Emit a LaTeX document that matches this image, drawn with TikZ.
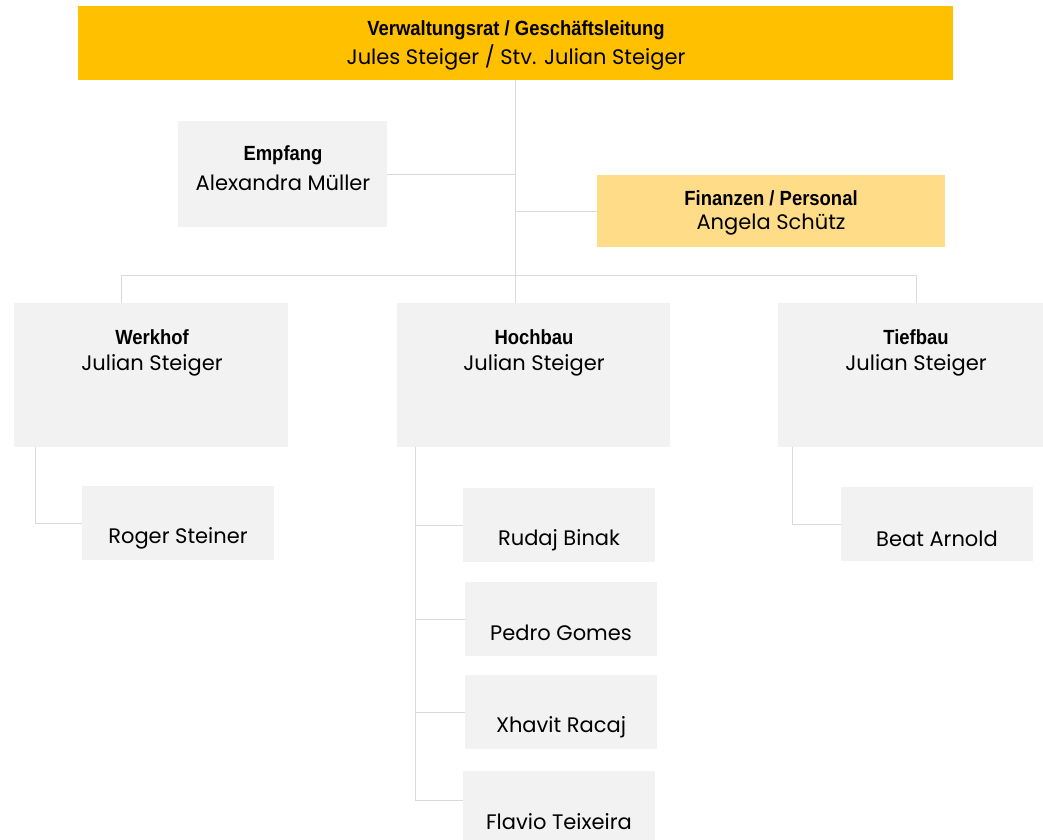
\documentclass[tikz,border=0pt]{standalone}
\usepackage{fontspec}
\setmainfont{Poppins}
\newfontfamily\headfont{Liberation Sans}[FakeStretch=0.9]
\definecolor{gold}{HTML}{FFC000}
\definecolor{lightgold}{HTML}{FFDC87}
\definecolor{boxgray}{HTML}{F2F2F2}
\definecolor{linegray}{HTML}{D9D9D9}

\begin{document}
\begin{tikzpicture}[
    x=1pt, y=-1pt,
    % Define styles
    unit/.style={
        rectangle,
        fill=boxgray,
        inner sep=0pt
    },
    unittitle/.style={
        font=\headfont\bfseries\fontsize{20.5}{22}\selectfont
    },
    person/.style={
        font=\fontsize{21}{23}\selectfont
    },
    link/.style={
        draw=linegray,
        line width=1pt
    }
]

% Page frame
\useasboundingbox (0,0) rectangle (1043,839);

% Board
\node[unit, fill=gold, minimum width=875pt, minimum height=74pt] (board) at (515.5,43) {};
\node[unittitle] (board-title) at (516,30) {Verwaltungsrat / Geschäftsleitung};
\node[person] (board-name) at (516,57) {Jules Steiger / Stv. Julian Steiger};

% Staff units
\node[unit, minimum width=209pt, minimum height=106pt] (empfang) at (282.5,174) {};
\node[unittitle] (empfang-title) at (283,155) {Empfang};
\node[person] (empfang-name) at (283,183) {Alexandra Müller};

\node[unit, fill=lightgold, minimum width=348pt, minimum height=72pt] (finanzen) at (771,211) {};
\node[unittitle] (finanzen-title) at (771,198) {Finanzen / Personal};
\node[person] (finanzen-name) at (771,225) {Angela Schütz};

% Departments
\node[unit, minimum width=274pt, minimum height=144pt] (werkhof) at (151,375) {};
\node[unittitle] (werkhof-title) at (152,337) {Werkhof};
\node[person] (werkhof-name) at (152,365) {Julian Steiger};

\node[unit, minimum width=273pt, minimum height=144pt] (hochbau) at (533.5,375) {};
\node[unittitle] (hochbau-title) at (534,337) {Hochbau};
\node[person] (hochbau-name) at (534,365) {Julian Steiger};

\node[unit, minimum width=265pt, minimum height=144pt] (tiefbau) at (910.5,375) {};
\node[unittitle] (tiefbau-title) at (916,337) {Tiefbau};
\node[person] (tiefbau-name) at (916,365) {Julian Steiger};

% Staff of the departments
\node[unit, minimum width=192pt, minimum height=74pt] (roger) at (178,523) {};
\node[person] (roger-name) at (178,538) {Roger Steiner};

\node[unit, minimum width=192pt, minimum height=74pt] (rudaj) at (559,525) {};
\node[person] (rudaj-name) at (559,540) {Rudaj Binak};

\node[unit, minimum width=192pt, minimum height=74pt] (pedro) at (561,619) {};
\node[person] (pedro-name) at (561,633) {Pedro Gomes};

\node[unit, minimum width=192pt, minimum height=74pt] (xhavit) at (561,712) {};
\node[person] (xhavit-name) at (561,727) {Xhavit Racaj};

\node[unit, minimum width=192pt, minimum height=78pt] (flavio) at (559,810) {};
\node[person] (flavio-name) at (559,822) {Flavio Teixeira};

\node[unit, minimum width=192pt, minimum height=74pt] (beat) at (937,524) {};
\node[person] (beat-name) at (937,539) {Beat Arnold};

% Connectors from the board
\coordinate (werkhof-in) at (121,303);
\coordinate (tiefbau-in) at (916,303);
\draw[link] (board.south) -- (board.south |- hochbau.north);
\draw[link] (empfang.east) -- (empfang.east -| board.south);
\draw[link] (finanzen.west) -- (finanzen.west -| board.south);
\draw[link] (werkhof-in) -- ++(0,-28) -| (tiefbau-in);

% Connectors in the departments
\draw[link] ([xshift=22pt]werkhof.south west) |- (roger.west);
\draw[link] ([xshift=19pt]hochbau.south west) coordinate (hochbau-out) |- ([yshift=10pt]flavio.west);
\draw[link] (hochbau-out |- rudaj.west) -- (rudaj.west);
\draw[link] (hochbau-out |- pedro.west) -- (pedro.west);
\draw[link] (hochbau-out |- xhavit.west) -- (xhavit.west);
\draw[link] ([xshift=15pt]tiefbau.south west) |- (beat.west);

\end{tikzpicture}
\end{document}
